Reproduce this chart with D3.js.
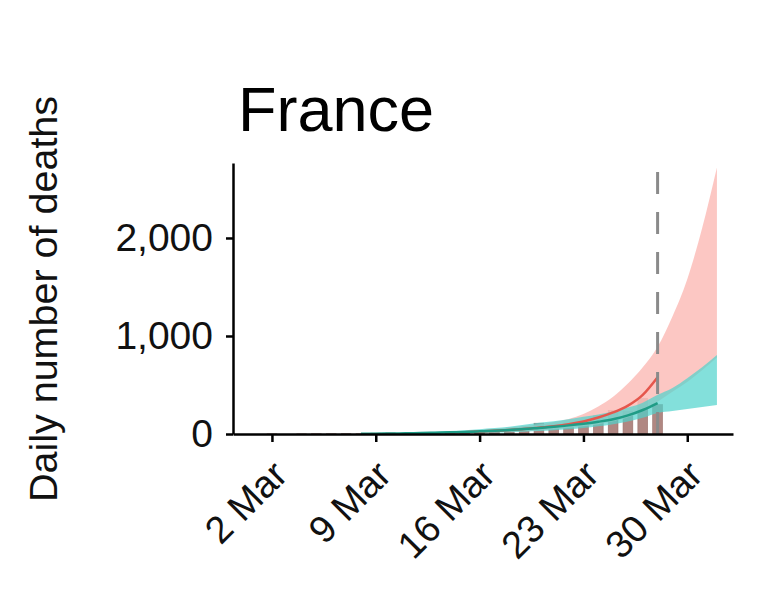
<!DOCTYPE html>
<html lang="en">
<head>
    <meta charset="UTF-8">
    <title>France daily deaths</title>
    <script src="https://d3js.org/d3.v7.min.js"></script>
    <style>
        body {
            margin: 0;
            padding: 0;
            background-color: #fff;
            font-family: 'Liberation Sans', Arial, sans-serif;
        }
        svg { display: block; }
        .axis path, .axis line { stroke: #000; stroke-width: 2.5; }
        .axis text { font-family: 'Liberation Sans', Arial, sans-serif; fill: #111; }
    </style>
</head>
<body>
<script>
    // reported daily deaths (bars), 28 Feb .. 28 Mar
    const barStart = "2020-02-28";
    const reportedDeaths = [0, 0, 0, 1, 0, 1, 2, 2, 3, 2, 9, 11, 3, 15, 13, 18, 12, 36, 21, 27, 69, 110, 78, 112, 112, 186, 240, 231, 365, 299];

    // model with interventions (teal), 8 Mar .. 1 Apr
    const tealStart = "2020-03-08";
    const tealLow  = [1, 2, 3, 4, 5, 6, 8, 10, 12, 15, 19, 24, 30, 38, 48, 60, 78, 100, 128, 165, 215, 235, 255, 275, 296];
    const tealHigh = [4, 7, 10, 14, 19, 24, 30, 38, 48, 60, 75, 95, 115, 130, 150, 175, 200, 230, 270, 320, 400, 470, 570, 680, 806];
    const tealMean = [2, 3, 5, 7, 10, 13, 17, 21, 27, 33, 41, 50, 62, 74, 88, 105, 125, 150, 190, 245, 316];

    // model without interventions (pink), 14 Mar .. 1 Apr
    const pinkStart = "2020-03-14";
    const pinkLow  = [8, 10, 13, 17, 22, 28, 36, 46, 60, 78, 100, 130, 170, 240, 330, 430, 530, 650, 780];
    const pinkHigh = [22, 30, 40, 52, 66, 82, 100, 122, 152, 205, 280, 380, 515, 680, 890, 1200, 1580, 2100, 2720];
    const redMean  = [14, 19, 25, 32, 41, 52, 65, 80, 100, 128, 168, 220, 290, 400, 580];

    const forecastDate = "2020-03-28";
    const xTickLabels = ["2 Mar", "9 Mar", "16 Mar", "23 Mar", "30 Mar"];
    const xTickDates = ["2020-03-02", "2020-03-09", "2020-03-16", "2020-03-23", "2020-03-30"];
    const yTicks = [0, 1000, 2000];

    const width = 770, height = 591;
    const parse = d3.timeParse("%Y-%m-%d");
    const dayAt = (start, i) => d3.timeDay.offset(parse(start), i);

    const svg = d3.select("body").append("svg")
        .attr("width", width)
        .attr("height", height);

    const x = d3.scaleTime()
        .domain([new Date(2020, 1, 28, 9), new Date(2020, 3, 2, 2)])
        .range([233, 733]);
    const y = d3.scaleLinear().domain([0, 2765]).range([434, 163]);
    const dayW = x(parse("2020-03-02")) - x(parse("2020-03-01"));

    // bars
    svg.append("g").selectAll("rect")
        .data(reportedDeaths)
        .join("rect")
        .attr("x", (d, i) => x(dayAt(barStart, i)) - dayW * 0.33)
        .attr("width", dayW * 0.66)
        .attr("y", d => y(d))
        .attr("height", d => y(0) - y(d))
        .attr("fill", "#b08782")
        .attr("stroke", "#9a706b")
        .attr("stroke-width", 0.6);

    const band = (start, lo, hi) => d3.area()
        .x((d, i) => x(dayAt(start, i)))
        .y0((d, i) => y(lo[i]))
        .y1((d, i) => y(hi[i]))
        .curve(d3.curveMonotoneX)(lo);

    svg.append("path")
        .attr("d", band(pinkStart, pinkLow, pinkHigh))
        .attr("fill", "#fbbdb8")
        .attr("opacity", 0.85);

    svg.append("path")
        .attr("d", band(tealStart, tealLow, tealHigh))
        .attr("fill", "#4fd3cc")
        .attr("opacity", 0.7);

    const line = start => d3.line()
        .x((d, i) => x(dayAt(start, i)))
        .y(d => y(d))
        .curve(d3.curveMonotoneX);

    svg.append("path")
        .attr("d", line(pinkStart)(redMean))
        .attr("fill", "none")
        .attr("stroke", "#e5564c")
        .attr("stroke-width", 2.5);

    svg.append("path")
        .attr("d", line(tealStart)(tealMean))
        .attr("fill", "none")
        .attr("stroke", "#1f9c86")
        .attr("stroke-width", 2.5);

    // forecast start
    svg.append("line")
        .attr("x1", x(parse(forecastDate)))
        .attr("x2", x(parse(forecastDate)))
        .attr("y1", y(0))
        .attr("y2", 170)
        .attr("stroke", "#8a8a8a")
        .attr("stroke-width", 3)
        .attr("stroke-dasharray", "22,18");

    // axes
    const xAxis = svg.append("g")
        .attr("class", "axis")
        .attr("transform", `translate(0,${y(0)})`)
        .call(d3.axisBottom(x)
            .tickValues(xTickDates.map(parse))
            .tickSize(8)
            .tickSizeOuter(0)
            .tickFormat((d, i) => xTickLabels[i]));
    xAxis.selectAll("text")
        .style("font-size", "38px")
        .attr("text-anchor", "end")
        .attr("x", 0)
        .attr("y", 0)
        .attr("dy", 0)
        .attr("transform", "translate(17,43) rotate(-45)");

    const yAxis = svg.append("g")
        .attr("class", "axis")
        .attr("transform", `translate(${x.range()[0]},0)`)
        .call(d3.axisLeft(y)
            .tickValues(yTicks)
            .tickSize(7)
            .tickSizeOuter(0)
            .tickFormat(d3.format(",")));
    yAxis.selectAll("text")
        .style("font-size", "39px")
        .attr("x", -20);

    // title and y label
    svg.append("text")
        .attr("x", 238)
        .attr("y", 131)
        .style("font-size", "63px")
        .attr("fill", "#000")
        .text("France");

    svg.append("text")
        .attr("transform", "translate(57,299) rotate(-90)")
        .attr("text-anchor", "middle")
        .style("font-size", "39.5px")
        .attr("fill", "#111")
        .text("Daily number of deaths");
</script>
</body>
</html>
